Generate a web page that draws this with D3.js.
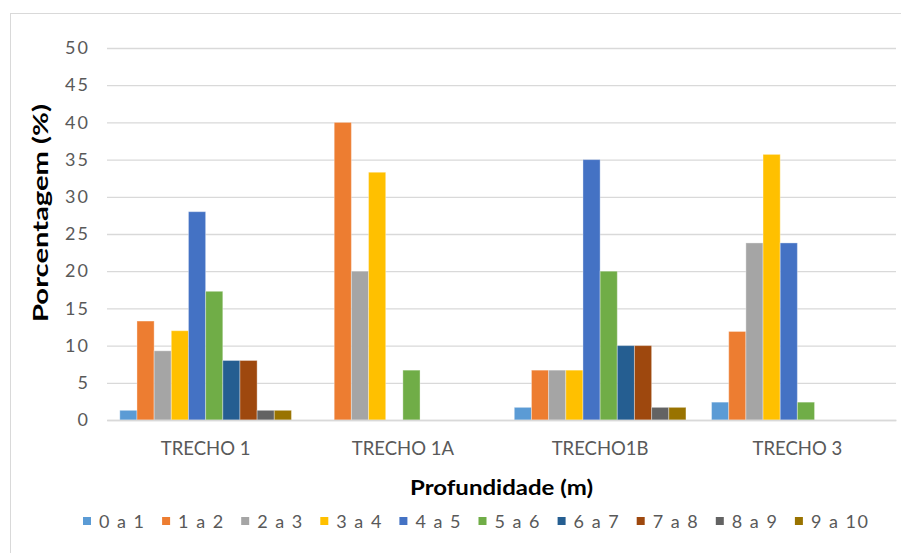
<!DOCTYPE html>
<html>
<head>
<meta charset="utf-8">
<script src="https://cdn.jsdelivr.net/npm/d3@7"></script>
<style>
  html, body { margin: 0; padding: 0; background: #fff; }
  svg { display: block; font-family: Lato, "Open Sans", sans-serif; }
</style>
</head>
<body>
<svg id="chart" width="901" height="553"></svg>
<script>
// Trechos (groups on the x axis)
const categories = ["TRECHO 1", "TRECHO 1A", "TRECHO1B", "TRECHO 3"];

// Depth classes (one series per class)
const seriesNames = ["0 a 1", "1 a 2", "2 a 3", "3 a 4", "4 a 5", "5 a 6", "6 a 7", "7 a 8", "8 a 9", "9 a 10"];

// Percentage per depth class, in the order of `categories`
const d0a1  = [1.3, 0, 1.7, 2.4];
const d1a2  = [13.3, 40.0, 6.7, 11.9];
const d2a3  = [9.3, 20.0, 6.7, 23.8];
const d3a4  = [12.0, 33.3, 6.7, 35.7];
const d4a5  = [28.0, 0, 35.0, 23.8];
const d5a6  = [17.3, 6.7, 20.0, 2.4];
const d6a7  = [8.0, 0, 10.0, 0];
const d7a8  = [8.0, 0, 10.0, 0];
const d8a9  = [1.3, 0, 1.7, 0];
const d9a10 = [1.3, 0, 1.7, 0];
const seriesValues = [d0a1, d1a2, d2a3, d3a4, d4a5, d5a6, d6a7, d7a8, d8a9, d9a10];

const colors = ["#5B9BD5", "#ED7D31", "#A5A5A5", "#FFC000", "#4472C4",
                "#70AD47", "#255E91", "#9E480E", "#636363", "#997300"];

const yTicks = [0, 5, 10, 15, 20, 25, 30, 35, 40, 45, 50];

const svg = d3.select("#chart");

// chart frame
svg.append("rect")
  .attr("x", 10.5).attr("y", 13.5)
  .attr("width", 900).attr("height", 560)
  .attr("fill", "none").attr("stroke", "#d9d9d9").attr("stroke-width", 1);

const plot = { left: 107, right: 896, top: 48, bottom: 420 };

const y = d3.scaleLinear().domain([0, 50]).range([plot.bottom, plot.top]);
const x0 = d3.scaleBand().domain(categories).range([plot.left, plot.right]).padding(0);
const groupGap = 12.8;
const x1 = d3.scaleBand().domain(seriesNames)
  .range([groupGap, x0.bandwidth() - groupGap]).padding(0);

// gridlines + y labels
const yAxis = d3.axisLeft(y).tickValues(yTicks)
  .tickSize(-(plot.right - plot.left)).tickPadding(17);
const gy = svg.append("g")
  .attr("transform", `translate(${plot.left},0)`)
  .call(yAxis);
gy.select(".domain").remove();
gy.selectAll(".tick line").attr("stroke", "#d9d9d9").attr("stroke-width", 1.3);
gy.selectAll(".tick text")
  .attr("fill", "#595959").attr("font-size", 18)
  .attr("letter-spacing", 2)
  .style("font-family", "Lato, 'Open Sans', sans-serif");

// bars
const rows = categories.map((c, ci) => ({
  cat: c,
  vals: seriesNames.map((s, si) => ({ s, si, v: seriesValues[si][ci] }))
}));

const groups = svg.append("g").selectAll("g")
  .data(rows).join("g")
  .attr("transform", d => `translate(${x0(d.cat)},0)`);

groups.selectAll("rect")
  .data(d => d.vals.filter(e => e.v > 0))
  .join("rect")
  .attr("x", d => x1(d.s))
  .attr("width", x1.bandwidth())
  .attr("y", d => y(d.v))
  .attr("height", d => y(0) - y(d.v))
  .attr("fill", d => colors[d.si])
  .attr("stroke", "#ffffff").attr("stroke-opacity", 0.35).attr("stroke-width", 1);

// x axis line and category labels
const xAxis = d3.axisBottom(x0).tickSize(0).tickPadding(22);
const gx = svg.append("g")
  .attr("transform", `translate(0,${plot.bottom})`)
  .call(xAxis);
gx.select(".domain").attr("stroke", "#d9d9d9").attr("stroke-width", 1.3);
gx.selectAll(".tick text")
  .attr("fill", "#595959").attr("font-size", 18.5)
  .style("font-family", "Lato, 'Open Sans', sans-serif");

// axis titles
svg.append("text")
  .attr("x", (plot.left + plot.right) / 2).attr("y", 495)
  .attr("text-anchor", "middle")
  .attr("font-size", 21).attr("font-weight", "bold").attr("fill", "#000")
  .attr("textLength", 183).attr("lengthAdjust", "spacingAndGlyphs")
  .text("Profundidade (m)");

svg.append("text")
  .attr("transform", "translate(48,213) rotate(-90)")
  .attr("text-anchor", "middle")
  .attr("font-size", 20).attr("font-weight", "bold").attr("fill", "#000")
  .attr("textLength", 218).attr("lengthAdjust", "spacingAndGlyphs")
  .text("Porcentagem (%)");

// legend
const legend = svg.append("g").selectAll("g")
  .data(seriesNames).join("g")
  .attr("transform", (d, i) => `translate(${83 + i * 79.1},0)`);
legend.append("rect")
  .attr("x", 0).attr("y", 517).attr("width", 8).attr("height", 8)
  .attr("fill", (d, i) => colors[i]);
legend.append("text")
  .attr("x", 16).attr("y", 528)
  .attr("font-size", 18).attr("letter-spacing", 1.5).attr("fill", "#595959")
  .text(d => d);
</script>
</body>
</html>
